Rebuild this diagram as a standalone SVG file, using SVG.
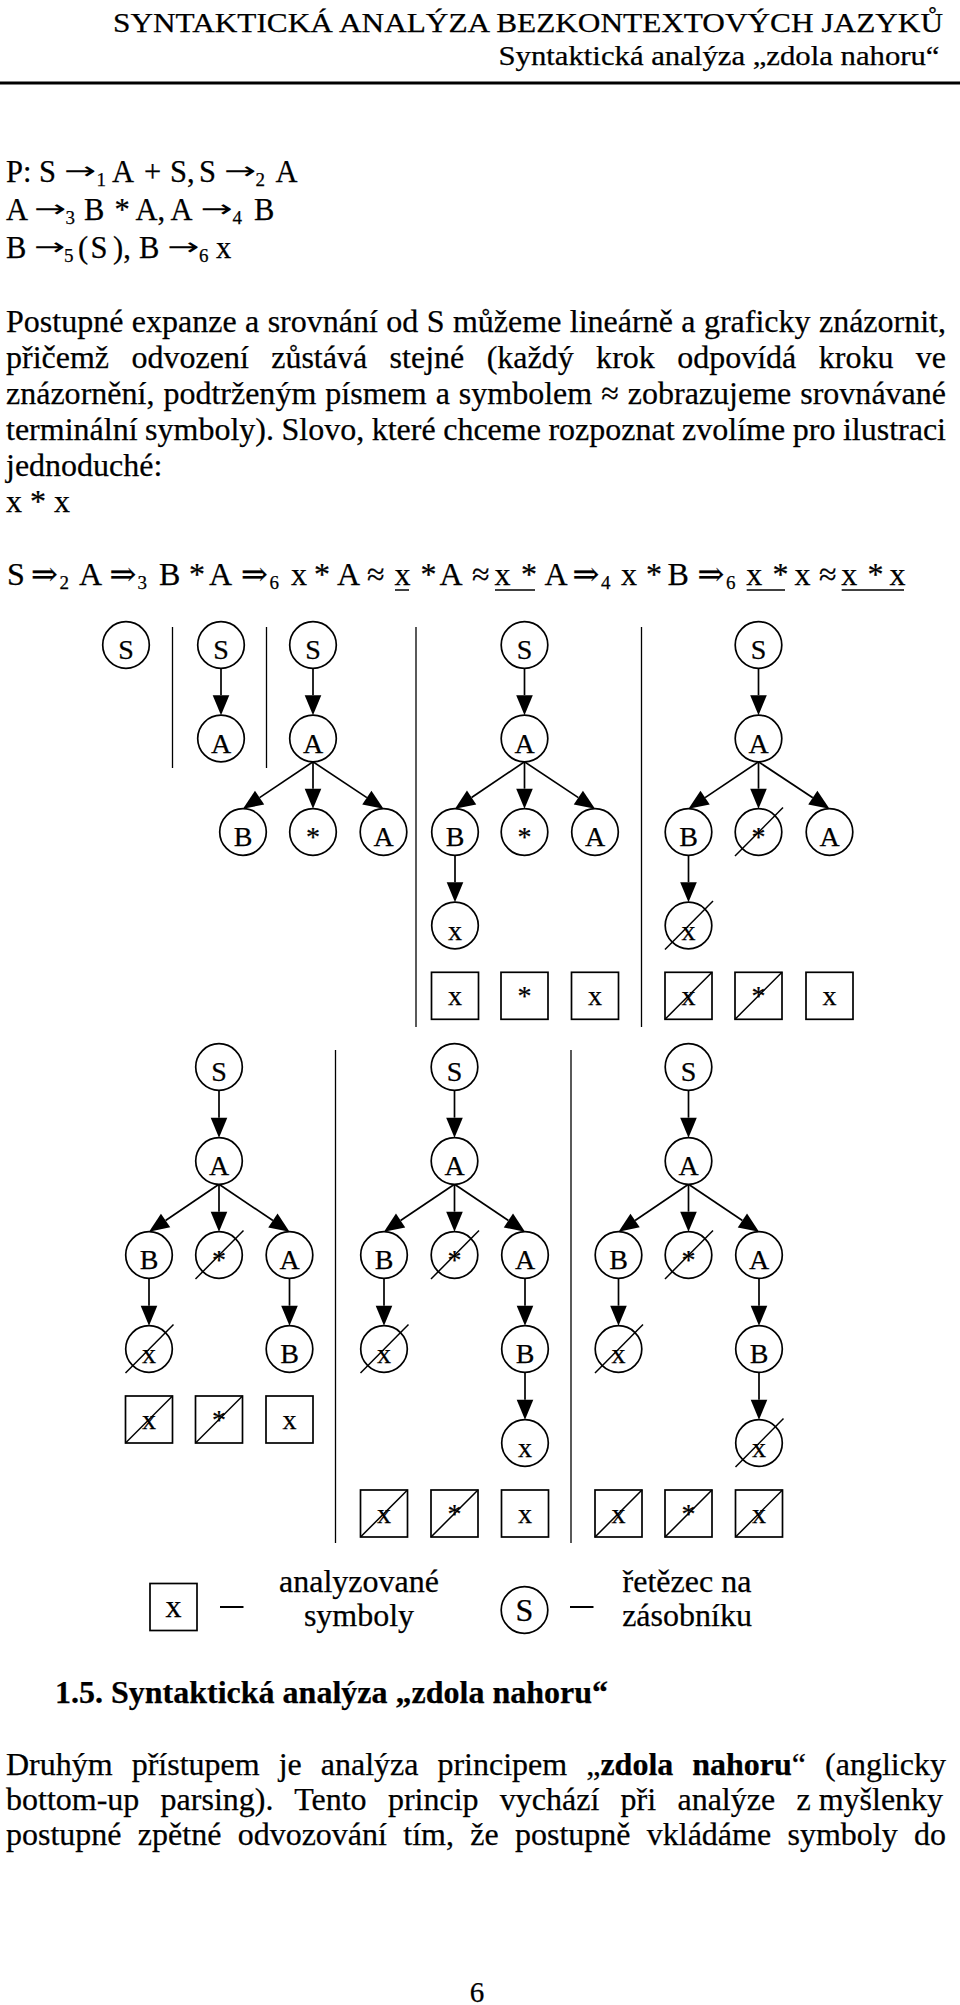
<svg xmlns="http://www.w3.org/2000/svg" width="960" height="2005" viewBox="0 0 960 2005">
<defs>
<style>
text{font-family:"Liberation Serif","Times New Roman","DejaVu Serif",serif;fill:#000;stroke:#000;stroke-width:0.25px}
.b32{font-size:32px}
.p29{font-size:30.5px}
.ar{font-family:"DejaVu Sans",sans-serif;font-size:24px;stroke-width:0}
.sub{font-size:19px}
.fsub{font-size:19px}
.lbl{font-size:28px;text-anchor:middle}
.lg{font-size:32px;text-anchor:middle}
.nd{fill:#fff;stroke:#000;stroke-width:1.7}
.bx{fill:#fff;stroke:#000;stroke-width:1.7}
.e{stroke:#000;stroke-width:1.7;fill:none;marker-end:url(#ah)}
.x{stroke:#000;stroke-width:1.5}
.sep{stroke:#000;stroke-width:1.3}
.ul{stroke:#000;stroke-width:1.5}
</style>
<marker id="ah" markerUnits="userSpaceOnUse" markerWidth="20" markerHeight="17" refX="0" refY="8.3" orient="auto" overflow="visible"><path d="M0,0 L20,8.3 L0,16.6 z" fill="#000"/></marker>
</defs>
<rect x="0" y="0" width="960" height="2005" fill="#fff"/>

<g id="header">
<text x="113" y="31.5" font-size="28" textLength="830" lengthAdjust="spacingAndGlyphs">SYNTAKTICKÁ ANALÝZA BEZKONTEXTOVÝCH JAZYKŮ</text>
<text x="498.5" y="65" font-size="28" textLength="441" lengthAdjust="spacingAndGlyphs">Syntaktická analýza „zdola nahoru“</text>
<rect x="0" y="81.5" width="960" height="3" fill="#000"/>
</g>

<g id="grammar" class="p29">
<text y="182"><tspan x="6">P:</tspan><tspan x="39">S</tspan><tspan x="96.5" dy="3.5" class="sub">1</tspan><tspan x="112" dy="-3.5">A</tspan><tspan x="144">+</tspan><tspan x="170">S,</tspan><tspan x="199">S</tspan><tspan x="255.5" dy="3.5" class="sub">2</tspan><tspan x="275.5" dy="-3.5">A</tspan></text>
<text class="ar" transform="translate(64,178.5) scale(1.6,1)">→</text>
<text class="ar" transform="translate(224,178.5) scale(1.6,1)">→</text>
<text y="220"><tspan x="6">A</tspan><tspan x="65.5" dy="3.5" class="sub">3</tspan><tspan x="84" dy="-3.5">B</tspan><tspan x="114.5">*</tspan><tspan x="135.5">A,</tspan><tspan x="170.5">A</tspan><tspan x="232.5" dy="3.5" class="sub">4</tspan><tspan x="254" dy="-3.5">B</tspan></text>
<text class="ar" transform="translate(34,216.5) scale(1.6,1)">→</text>
<text class="ar" transform="translate(200.6,216.5) scale(1.6,1)">→</text>
<text y="258.3"><tspan x="6">B</tspan><tspan x="64" dy="3.5" class="sub">5</tspan><tspan x="78" dy="-3.5">(</tspan><tspan x="90.5">S</tspan><tspan x="113">),</tspan><tspan x="139">B</tspan><tspan x="199" dy="3.5" class="sub">6</tspan><tspan x="216" dy="-3.5">x</tspan></text>
<text class="ar" transform="translate(34,254.8) scale(1.55,1)">→</text>
<text class="ar" transform="translate(167.3,254.8) scale(1.6,1)">→</text>
</g>

<g id="paragraph1" class="b32">
<text x="6" y="331.5" style="word-spacing:0.42px" textLength="940" lengthAdjust="spacing">Postupné expanze a srovnání od S můžeme lineárně a graficky znázornit,</text>
<text x="6" y="367.5" style="word-spacing:14.4px" textLength="940" lengthAdjust="spacing">přičemž odvození zůstává stejné (každý krok odpovídá kroku ve</text>
<text x="6" y="403.5" style="word-spacing:1px" textLength="940" lengthAdjust="spacing">znázornění, podtrženým písmem a symbolem ≈ zobrazujeme srovnávané</text>
<text x="6" y="439.5" style="word-spacing:-0.49px" textLength="940" lengthAdjust="spacing">terminální symboly). Slovo, které chceme rozpoznat zvolíme pro ilustraci</text>
<text x="6" y="475.5">jednoduché:</text>
<text x="6" y="511.5">x * x</text>
</g>

<g id="derivation" class="b32">
<text y="585"><tspan x="7">S</tspan><tspan x="31">⇒</tspan><tspan x="59.5" dy="3.5" class="fsub">2</tspan><tspan x="79" dy="-3.5">A</tspan><tspan x="109.5">⇒</tspan><tspan x="137.5" dy="3.5" class="fsub">3</tspan><tspan x="159" dy="-3.5">B</tspan><tspan x="189">*</tspan><tspan x="209">A</tspan><tspan x="241">⇒</tspan><tspan x="269.5" dy="3.5" class="fsub">6</tspan><tspan x="291" dy="-3.5">x</tspan><tspan x="314">*</tspan><tspan x="337">A</tspan><tspan x="367">≈</tspan><tspan x="394.5">x</tspan><tspan x="420.5">*</tspan><tspan x="439.5">A</tspan><tspan x="472">≈</tspan><tspan x="494.5">x</tspan><tspan x="521">*</tspan><tspan x="544.5">A</tspan><tspan x="572.5">⇒</tspan><tspan x="601" dy="3.5" class="fsub">4</tspan><tspan x="621" dy="-3.5">x</tspan><tspan x="646">*</tspan><tspan x="667.5">B</tspan><tspan x="697.5">⇒</tspan><tspan x="726" dy="3.5" class="fsub">6</tspan><tspan x="746.2" dy="-3.5">x</tspan><tspan x="772.5">*</tspan><tspan x="794.5">x</tspan><tspan x="819">≈</tspan><tspan x="841.2">x</tspan><tspan x="867.5">*</tspan><tspan x="889.5">x</tspan></text>
<line class="ul" x1="395" y1="590" x2="409" y2="590"/>
<line class="ul" x1="495" y1="590" x2="535" y2="590"/>
<line class="ul" x1="746.7" y1="590" x2="785" y2="590"/>
<line class="ul" x1="841.7" y1="590" x2="904" y2="590"/>
</g>

<g id="separators">
<line class="sep" x1="172.5" y1="627" x2="172.5" y2="768"/>
<line class="sep" x1="266.5" y1="627" x2="266.5" y2="768"/>
<line class="sep" x1="416" y1="627" x2="416" y2="1027"/>
<line class="sep" x1="641.5" y1="627" x2="641.5" y2="1027"/>
<line class="sep" x1="335.5" y1="1050" x2="335.5" y2="1543"/>
<line class="sep" x1="571" y1="1050" x2="571" y2="1543"/>
</g>

<g id="connectors">
<path class="e" d="M221,668.3 L221,695.2"/>
<path class="e" d="M313,668.3 L313,695.2"/>
<path class="e" d="M313,761.8 L259.6,797.6"/>
<path class="e" d="M313,761.8 L313,788.7"/>
<path class="e" d="M313,761.8 L366.85,797.6"/>
<path class="e" d="M524.5,668.3 L524.5,695.2"/>
<path class="e" d="M524.5,761.8 L471.6,797.5"/>
<path class="e" d="M524.5,761.8 L524.5,788.7"/>
<path class="e" d="M524.5,761.8 L578.35,797.6"/>
<path class="e" d="M455,855.3 L455,882.2"/>
<path class="e" d="M758.5,668.3 L758.5,695.2"/>
<path class="e" d="M758.5,761.8 L705.1,797.6"/>
<path class="e" d="M758.5,761.8 L758.5,788.7"/>
<path class="e" d="M758.5,761.8 L812.8,797.7"/>
<path class="e" d="M688.5,855.3 L688.5,882.2"/>

<path class="e" d="M219,1090.3 L219,1117.7"/>
<path class="e" d="M219,1184.3 L165.6,1220.5"/>
<path class="e" d="M219,1184.3 L219,1211.7"/>
<path class="e" d="M219,1184.3 L272.9,1220.5"/>
<path class="e" d="M149,1278.3 L149,1305.7"/>
<path class="e" d="M289.5,1278.3 L289.5,1305.7"/>

<path class="e" d="M454.5,1090.3 L454.5,1117.7"/>
<path class="e" d="M454.5,1184.3 L400.6,1220.5"/>
<path class="e" d="M454.5,1184.3 L454.5,1211.7"/>
<path class="e" d="M454.5,1184.3 L508.4,1220.5"/>
<path class="e" d="M384,1278.3 L384,1305.7"/>
<path class="e" d="M525,1278.3 L525,1305.7"/>
<path class="e" d="M525,1372.3 L525,1399.7"/>

<path class="e" d="M688.5,1090.3 L688.5,1117.7"/>
<path class="e" d="M688.5,1184.3 L635.1,1220.5"/>
<path class="e" d="M688.5,1184.3 L688.5,1211.7"/>
<path class="e" d="M688.5,1184.3 L742.4,1220.5"/>
<path class="e" d="M618.5,1278.3 L618.5,1305.7"/>
<path class="e" d="M759,1278.3 L759,1305.7"/>
<path class="e" d="M759,1372.3 L759,1399.7"/>
</g>

<g id="tree1">
<g id="t1-S"><circle class="nd" cx="126" cy="645" r="23.3"/><text class="lbl" x="126" y="659">S</text></g>
</g>
<g id="tree2">
<g id="t2-S"><circle class="nd" cx="221" cy="645" r="23.3"/><text class="lbl" x="221" y="659">S</text></g>
<g id="t2-A"><circle class="nd" cx="221" cy="738.5" r="23.3"/><text class="lbl" x="221" y="752.5">A</text></g>
</g>
<g id="tree3">
<g id="t3-S"><circle class="nd" cx="313" cy="645" r="23.3"/><text class="lbl" x="313" y="659">S</text></g>
<g id="t3-A"><circle class="nd" cx="313" cy="738.5" r="23.3"/><text class="lbl" x="313" y="752.5">A</text></g>
<g id="t3-B"><circle class="nd" cx="243" cy="832" r="23.3"/><text class="lbl" x="243" y="846">B</text></g>
<g id="t3-star"><circle class="nd" cx="313" cy="832" r="23.3"/><text class="lbl" x="313" y="846">*</text></g>
<g id="t3-A2"><circle class="nd" cx="383.5" cy="832" r="23.3"/><text class="lbl" x="383.5" y="846">A</text></g>
</g>
<g id="tree4">
<g id="t4-S"><circle class="nd" cx="524.5" cy="645" r="23.3"/><text class="lbl" x="524.5" y="659">S</text></g>
<g id="t4-A"><circle class="nd" cx="524.5" cy="738.5" r="23.3"/><text class="lbl" x="524.5" y="752.5">A</text></g>
<g id="t4-B"><circle class="nd" cx="455" cy="832" r="23.3"/><text class="lbl" x="455" y="846">B</text></g>
<g id="t4-star"><circle class="nd" cx="524.5" cy="832" r="23.3"/><text class="lbl" x="524.5" y="846">*</text></g>
<g id="t4-A2"><circle class="nd" cx="595" cy="832" r="23.3"/><text class="lbl" x="595" y="846">A</text></g>
<g id="t4-x"><circle class="nd" cx="455" cy="925.5" r="23.3"/><text class="lbl" x="455" y="939.5">x</text></g>
<g id="t4-in1"><rect class="bx" x="431.5" y="972.3" width="47" height="47"/><text class="lbl" x="455" y="1005.3">x</text></g>
<g id="t4-in2"><rect class="bx" x="501" y="972.3" width="47" height="47"/><text class="lbl" x="524.5" y="1005.3">*</text></g>
<g id="t4-in3"><rect class="bx" x="571.5" y="972.3" width="47" height="47"/><text class="lbl" x="595" y="1005.3">x</text></g>
</g>
<g id="tree5">
<g id="t5-S"><circle class="nd" cx="758.5" cy="645" r="23.3"/><text class="lbl" x="758.5" y="659">S</text></g>
<g id="t5-A"><circle class="nd" cx="758.5" cy="738.5" r="23.3"/><text class="lbl" x="758.5" y="752.5">A</text></g>
<g id="t5-B"><circle class="nd" cx="688.5" cy="832" r="23.3"/><text class="lbl" x="688.5" y="846">B</text></g>
<g id="t5-star"><circle class="nd" cx="758.5" cy="832" r="23.3"/><text class="lbl" x="758.5" y="846">*</text><line class="x" x1="735" y1="856" x2="783" y2="807.5"/></g>
<g id="t5-A2"><circle class="nd" cx="829.5" cy="832" r="23.3"/><text class="lbl" x="829.5" y="846">A</text></g>
<g id="t5-x"><circle class="nd" cx="688.5" cy="925.5" r="23.3"/><text class="lbl" x="688.5" y="939.5">x</text><line class="x" x1="665" y1="949.5" x2="713" y2="901"/></g>
<g id="t5-in1"><rect class="bx" x="665" y="972.3" width="47" height="47"/><text class="lbl" x="688.5" y="1005.3">x</text><line class="x" x1="665" y1="1019.3" x2="712" y2="972.3"/></g>
<g id="t5-in2"><rect class="bx" x="735" y="972.3" width="47" height="47"/><text class="lbl" x="758.5" y="1005.3">*</text><line class="x" x1="735" y1="1019.3" x2="782" y2="972.3"/></g>
<g id="t5-in3"><rect class="bx" x="806" y="972.3" width="47" height="47"/><text class="lbl" x="829.5" y="1005.3">x</text></g>
</g>

<g id="tree6">
<g id="t6-S"><circle class="nd" cx="219" cy="1067" r="23.3"/><text class="lbl" x="219" y="1081">S</text></g>
<g id="t6-A"><circle class="nd" cx="219" cy="1161" r="23.3"/><text class="lbl" x="219" y="1175">A</text></g>
<g id="t6-B"><circle class="nd" cx="149" cy="1255" r="23.3"/><text class="lbl" x="149" y="1269">B</text></g>
<g id="t6-star"><circle class="nd" cx="219" cy="1255" r="23.3"/><text class="lbl" x="219" y="1269">*</text><line class="x" x1="195.5" y1="1279" x2="243.5" y2="1230.5"/></g>
<g id="t6-A2"><circle class="nd" cx="289.5" cy="1255" r="23.3"/><text class="lbl" x="289.5" y="1269">A</text></g>
<g id="t6-x"><circle class="nd" cx="149" cy="1349" r="23.3"/><text class="lbl" x="149" y="1363">x</text><line class="x" x1="125.5" y1="1373" x2="173.5" y2="1324.5"/></g>
<g id="t6-B2"><circle class="nd" cx="289.5" cy="1349" r="23.3"/><text class="lbl" x="289.5" y="1363">B</text></g>
<g id="t6-in1"><rect class="bx" x="125.5" y="1396" width="47" height="47"/><text class="lbl" x="149" y="1429">x</text><line class="x" x1="125.5" y1="1443" x2="172.5" y2="1396"/></g>
<g id="t6-in2"><rect class="bx" x="195.5" y="1396" width="47" height="47"/><text class="lbl" x="219" y="1429">*</text><line class="x" x1="195.5" y1="1443" x2="242.5" y2="1396"/></g>
<g id="t6-in3"><rect class="bx" x="266" y="1396" width="47" height="47"/><text class="lbl" x="289.5" y="1429">x</text></g>
</g>
<g id="tree7">
<g id="t7-S"><circle class="nd" cx="454.5" cy="1067" r="23.3"/><text class="lbl" x="454.5" y="1081">S</text></g>
<g id="t7-A"><circle class="nd" cx="454.5" cy="1161" r="23.3"/><text class="lbl" x="454.5" y="1175">A</text></g>
<g id="t7-B"><circle class="nd" cx="384" cy="1255" r="23.3"/><text class="lbl" x="384" y="1269">B</text></g>
<g id="t7-star"><circle class="nd" cx="454.5" cy="1255" r="23.3"/><text class="lbl" x="454.5" y="1269">*</text><line class="x" x1="431" y1="1279" x2="479" y2="1230.5"/></g>
<g id="t7-A2"><circle class="nd" cx="525" cy="1255" r="23.3"/><text class="lbl" x="525" y="1269">A</text></g>
<g id="t7-x"><circle class="nd" cx="384" cy="1349" r="23.3"/><text class="lbl" x="384" y="1363">x</text><line class="x" x1="360.5" y1="1373" x2="408.5" y2="1324.5"/></g>
<g id="t7-B2"><circle class="nd" cx="525" cy="1349" r="23.3"/><text class="lbl" x="525" y="1363">B</text></g>
<g id="t7-x2"><circle class="nd" cx="525" cy="1443" r="23.3"/><text class="lbl" x="525" y="1457">x</text></g>
<g id="t7-in1"><rect class="bx" x="360.5" y="1490" width="47" height="47"/><text class="lbl" x="384" y="1523">x</text><line class="x" x1="360.5" y1="1537" x2="407.5" y2="1490"/></g>
<g id="t7-in2"><rect class="bx" x="431" y="1490" width="47" height="47"/><text class="lbl" x="454.5" y="1523">*</text><line class="x" x1="431" y1="1537" x2="478" y2="1490"/></g>
<g id="t7-in3"><rect class="bx" x="501.5" y="1490" width="47" height="47"/><text class="lbl" x="525" y="1523">x</text></g>
</g>
<g id="tree8">
<g id="t8-S"><circle class="nd" cx="688.5" cy="1067" r="23.3"/><text class="lbl" x="688.5" y="1081">S</text></g>
<g id="t8-A"><circle class="nd" cx="688.5" cy="1161" r="23.3"/><text class="lbl" x="688.5" y="1175">A</text></g>
<g id="t8-B"><circle class="nd" cx="618.5" cy="1255" r="23.3"/><text class="lbl" x="618.5" y="1269">B</text></g>
<g id="t8-star"><circle class="nd" cx="688.5" cy="1255" r="23.3"/><text class="lbl" x="688.5" y="1269">*</text><line class="x" x1="665" y1="1279" x2="713" y2="1230.5"/></g>
<g id="t8-A2"><circle class="nd" cx="759" cy="1255" r="23.3"/><text class="lbl" x="759" y="1269">A</text></g>
<g id="t8-x"><circle class="nd" cx="618.5" cy="1349" r="23.3"/><text class="lbl" x="618.5" y="1363">x</text><line class="x" x1="595" y1="1373" x2="643" y2="1324.5"/></g>
<g id="t8-B2"><circle class="nd" cx="759" cy="1349" r="23.3"/><text class="lbl" x="759" y="1363">B</text></g>
<g id="t8-x2"><circle class="nd" cx="759" cy="1443" r="23.3"/><text class="lbl" x="759" y="1457">x</text><line class="x" x1="735.5" y1="1467" x2="783.5" y2="1418.5"/></g>
<g id="t8-in1"><rect class="bx" x="595" y="1490" width="47" height="47"/><text class="lbl" x="618.5" y="1523">x</text><line class="x" x1="595" y1="1537" x2="642" y2="1490"/></g>
<g id="t8-in2"><rect class="bx" x="665" y="1490" width="47" height="47"/><text class="lbl" x="688.5" y="1523">*</text><line class="x" x1="665" y1="1537" x2="712" y2="1490"/></g>
<g id="t8-in3"><rect class="bx" x="735.5" y="1490" width="47" height="47"/><text class="lbl" x="759" y="1523">x</text><line class="x" x1="735.5" y1="1537" x2="782.5" y2="1490"/></g>
</g>

<g id="legend">
<g id="lg-box"><rect class="bx" x="150" y="1583.5" width="47" height="47"/><text class="lg" x="173.5" y="1616.5">x</text></g>
<line x1="220" y1="1607" x2="243.5" y2="1607" stroke="#000" stroke-width="2"/>
<text class="lg" x="359" y="1592">analyzované</text>
<text class="lg" x="359" y="1626">symboly</text>
<g id="lg-circle"><circle class="nd" cx="524.5" cy="1610" r="23.3"/><text class="lg" x="524.5" y="1621">S</text></g>
<line x1="570" y1="1607" x2="593.5" y2="1607" stroke="#000" stroke-width="2"/>
<text class="lg" x="687" y="1592">řetězec na</text>
<text class="lg" x="687" y="1626">zásobníku</text>
</g>

<g id="section">
<text x="55" y="1703" font-size="32" font-weight="bold">1.5. Syntaktická analýza „zdola nahoru“</text>
</g>

<g id="paragraph2" class="b32">
<text x="6" y="1775" style="word-spacing:11px">Druhým přístupem je analýza principem „<tspan font-weight="bold">zdola nahoru</tspan>“ (anglicky</text>
<text x="6" y="1810" style="word-spacing:13.29px">bottom-up parsing). Tento princip vychází při analýze z<tspan dx="8">myšlenky</tspan></text>
<text x="6" y="1845" style="word-spacing:8.3px" textLength="940" lengthAdjust="spacing">postupné zpětné odvozování tím, že postupně vkládáme symboly do</text>
</g>

<g id="footer">
<text x="477" y="2002" font-size="29" text-anchor="middle">6</text>
</g>
</svg>
